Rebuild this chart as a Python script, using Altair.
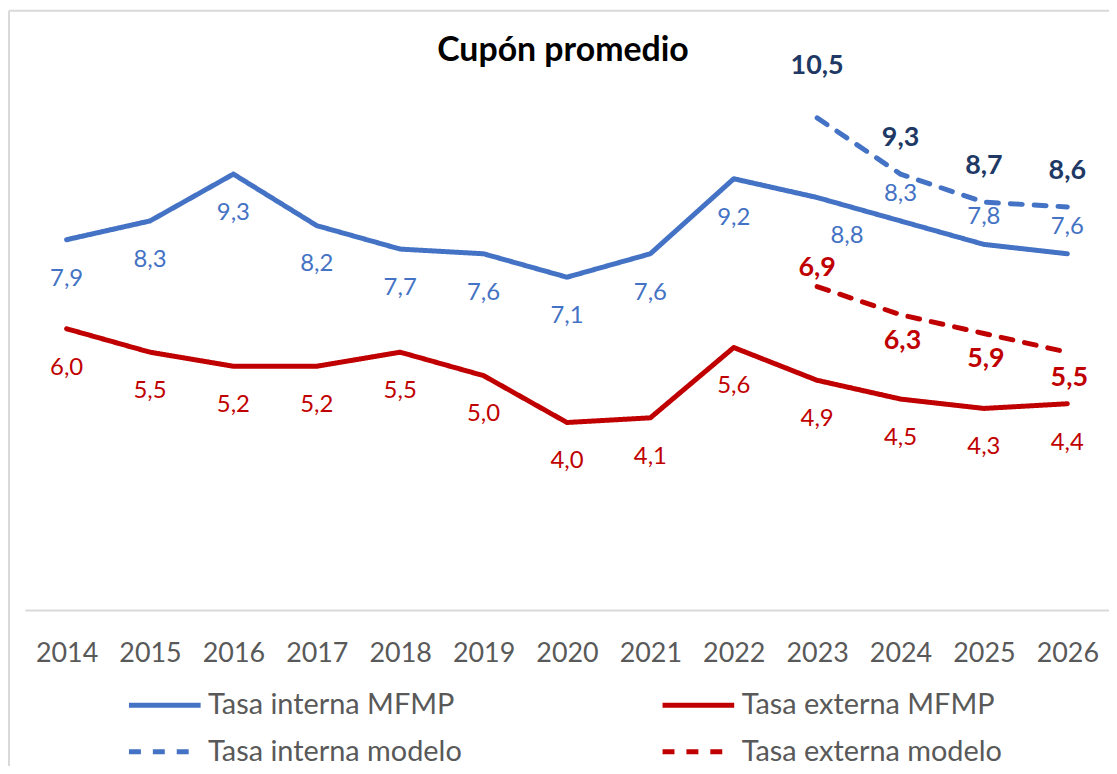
import altair as alt
import pandas as pd

# ---- data ----
years = [str(y) for y in range(2014, 2027)]
model_years = ["2023", "2024", "2025", "2026"]

interna_mfmp = [7.9, 8.3, 9.3, 8.2, 7.7, 7.6, 7.1, 7.6, 9.2, 8.8, 8.3, 7.8, 7.6]
externa_mfmp = [6.0, 5.5, 5.2, 5.2, 5.5, 5.0, 4.0, 4.1, 5.6, 4.9, 4.5, 4.3, 4.4]
interna_modelo = [10.5, 9.3, 8.7, 8.6]
externa_modelo = [6.9, 6.3, 5.9, 5.5]

series_names = ["Tasa interna MFMP", "Tasa externa MFMP",
                "Tasa interna modelo", "Tasa externa modelo"]

# label placement codes (b=below, a=above, br=below-right, A=above model, T=top, s=slightly above, m=below model)
pos_interna_mfmp = ["b"] * 9 + ["br", "a", "a", "a"]
pos_externa_mfmp = ["b"] * 13
pos_interna_modelo = ["T", "A", "A", "A"]
pos_externa_modelo = ["s", "m", "m", "m"]

# ---- styles ----
BLUE = "#4472C4"
RED = "#C00000"
NAVY = "#203864"
line_colors = [BLUE, RED, BLUE, RED]
label_colors = {series_names[0]: BLUE, series_names[1]: RED,
                series_names[2]: NAVY, series_names[3]: RED}
bold_series = {series_names[2], series_names[3]}
offsets = {"b": (0, 39), "a": (0, -27), "br": (30, 39), "A": (0, -36),
           "T": (0, -52), "s": (0, -19), "m": (2, 26)}

FONT = "Lato"
W, H = 1089, 565

rows = []
for name, yrs, vals, poss in [
    (series_names[0], years, interna_mfmp, pos_interna_mfmp),
    (series_names[1], years, externa_mfmp, pos_externa_mfmp),
    (series_names[2], model_years, interna_modelo, pos_interna_modelo),
    (series_names[3], model_years, externa_modelo, pos_externa_modelo),
]:
    for y, v, p in zip(yrs, vals, poss):
        rows.append({"serie": name, "year": y, "value": v, "pos": p,
                     "lcolor": label_colors[name],
                     "bold": name in bold_series,
                     "label": f"{v:.1f}".replace(".", ",")})
df = pd.DataFrame(rows)

x_enc = alt.X("year:N", sort=years,
              scale=alt.Scale(type="point", domain=years, padding=0.5),
              axis=alt.Axis(title=None, labelAngle=0, ticks=False, grid=False,
                            labelFont=FONT, labelFontSize=27, labelColor="#595959",
                            labelPadding=31, domainColor="#D9D9D9", domainWidth=2))
y_enc = alt.Y("value:Q", scale=alt.Scale(domain=[0, 12], nice=False, zero=True), axis=None)

legend = alt.Legend(title=None, orient="none", legendX=126, legendY=646,
                    direction="horizontal", columns=2, columnPadding=191, rowPadding=17,
                    symbolType="M-6,0L6,0", symbolSize=144, symbolStrokeWidth=5,
                    labelFont=FONT, labelFontSize=29, labelColor="#595959",
                    labelOffset=29, labelLimit=500, padding=0)

lines = alt.Chart(df).mark_line(strokeWidth=5, strokeCap="round", strokeJoin="round").encode(
    x=x_enc, y=y_enc,
    color=alt.Color("serie:N", scale=alt.Scale(domain=series_names, range=line_colors),
                    legend=legend),
    strokeDash=alt.StrokeDash("serie:N",
                              scale=alt.Scale(domain=series_names,
                                              range=[[1, 0], [1, 0], [12, 12], [12, 12]]),
                              legend=legend),
)

layers = [lines]
for code, (dx, dy) in offsets.items():
    for bold in (False, True):
        sub = df[(df["pos"] == code) & (df["bold"] == bold)]
        if sub.empty:
            continue
        layers.append(
            alt.Chart(sub).mark_text(
                dx=dx, dy=dy, baseline="middle", align="center", font=FONT,
                fontSize=27 if bold else 24, fontWeight="bold" if bold else "normal"
            ).encode(x=x_enc, y=y_enc, text="label:N",
                     color=alt.Color("lcolor:N", scale=None))
        )

frame_df = pd.DataFrame({"k": [0]})
left_border = alt.Chart(frame_df).mark_rule(color="#D9D9D9", strokeWidth=2).encode(
    x=alt.value(-16), y=alt.value(-37), y2=alt.value(H + 160))
top_border = alt.Chart(frame_df).mark_rule(color="#D9D9D9", strokeWidth=2).encode(
    x=alt.value(-16), x2=alt.value(W + 10), y=alt.value(-37))
layers += [left_border, top_border]

chart = alt.layer(*layers).properties(
    width=W, height=H,
    title=alt.TitleParams("Cupón promedio", font=FONT, fontSize=34, fontWeight="bold",
                          color="#000000", anchor="middle", frame="group",
                          offset=0, dy=59, dx=-4),
    autosize=alt.AutoSizeParams(type="none"),
    padding={"left": 17, "top": 38, "right": 0, "bottom": 155},
).configure_view(stroke=None)

chart.save("out.html", embed_options={"renderer": "svg", "actions": False})
